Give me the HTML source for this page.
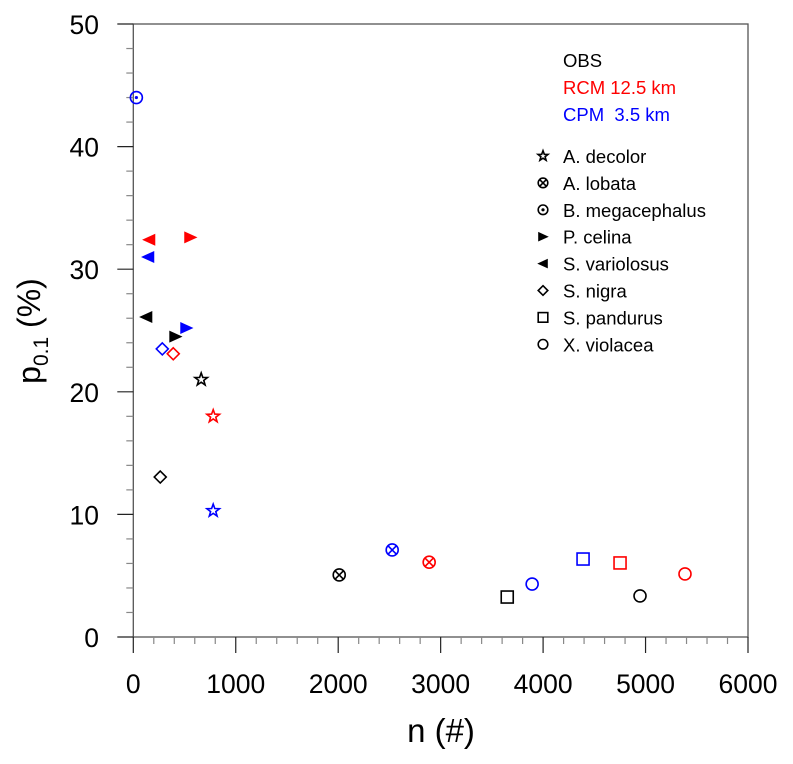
<!DOCTYPE html>
<html><head><meta charset="utf-8"><style>
body{margin:0;background:#fff}
svg{display:block;font-family:"Liberation Sans",sans-serif}
</style></head><body>
<svg id="chart" width="793" height="764">
<g id="axes"></g>
<g id="marks"></g>
<g id="legend">
<text x="563" y="67" font-size="18.5" fill="#000">OBS</text>
<text x="563" y="94" font-size="18.5" fill="#f00">RCM 12.5 km</text>
<text x="563" y="121" font-size="18.5" fill="#00f" xml:space="preserve" style="white-space:pre">CPM  3.5 km</text>
</g>
<text x="441" y="742" font-size="33" text-anchor="middle">n (#)</text>
<text transform="translate(40,331) rotate(-90)" font-size="32" text-anchor="middle">p<tspan font-size="21" dy="8">0.1</tspan><tspan dy="-8"> (%)</tspan></text>
</svg>
<script>
const species = ["A. decolor","A. lobata","B. megacephalus","P. celina","S. variolosus","S. nigra","S. pandurus","X. violacea"];
const shapes = ["star","otimes","odot","right","left","diamond","square","circle"];
const obsN = [663, 2010, null, 410, 127, 263, 3650, 4946];
const obsP = [21.0, 5.06, null, 24.5, 26.1, 13.05, 3.26, 3.35];
const rcmN = [780, 2888, null, 556, 156, 390, 4751, 5385];
const rcmP = [18.0, 6.1, null, 32.6, 32.4, 23.1, 6.04, 5.14];
const cpmN = [780, 2527, 30, 517, 146, 283, 4390, 3893];
const cpmP = [10.3, 7.1, 44.0, 25.2, 31.0, 23.5, 6.36, 4.32];
const xTicks = [0,1000,2000,3000,4000,5000,6000];
const yTicks = [0,10,20,30,40,50];

const X0=133.3,X1=748,Y0=637,Y1=24;
const sx=v=>X0+(v/6000)*(X1-X0);
const sy=v=>Y0-(v/50)*(Y0-Y1);
const NS="http://www.w3.org/2000/svg";
function mk(t,a,p){const e=document.createElementNS(NS,t);for(const k in a)e.setAttribute(k,a[k]);p.appendChild(e);return e;}
const ax=document.getElementById('axes');
const frame=mk('rect',{x:X0,y:Y1,width:X1-X0,height:Y0-Y1,fill:'none',stroke:'#555','stroke-width':1.3},ax);


for(let v=0;v<=6000;v+=200){const x=sx(v);const maj=v%1000===0;mk('line',{x1:x,x2:x,y1:Y0,y2:Y0+(maj?16:7),stroke:maj?'#222':'#888','stroke-width':1.2},ax);}
for(let v=0;v<=50;v+=2){const y=sy(v);const maj=v%10===0;mk('line',{x1:X0,x2:X0-(maj?16:7),y1:y,y2:y,stroke:maj?'#222':'#888','stroke-width':1.2},ax);}
xTicks.forEach(v=>{const t=mk('text',{x:sx(v),y:Y0+56,'font-size':26.5,'text-anchor':'middle'},ax);t.textContent=v;

});
yTicks.forEach(v=>{const t=mk('text',{x:99,y:sy(v)+10,'font-size':26.5,'text-anchor':'end'},ax);t.textContent=v;

});

function marker(shape,cx,cy,col,g,s){
  s=s||1;const sw=1.6;const r=6*s;
  if(shape==='star'){let p=[];for(let i=0;i<10;i++){const rr=i%2?r*0.45:r*1.1;const a=-Math.PI/2+i*Math.PI/5;p.push((cx+rr*Math.cos(a)).toFixed(1)+','+(cy+rr*Math.sin(a)).toFixed(1));}mk('polygon',{points:p.join(' '),fill:'none',stroke:col,'stroke-width':sw},g);}
  else if(shape==='otimes'||shape==='odot'||shape==='circle'){mk('circle',{cx,cy,r,fill:'none',stroke:col,'stroke-width':sw},g);
    if(shape==='otimes'){const d=r*0.7;mk('path',{d:`M${cx-d},${cy-d}L${cx+d},${cy+d}M${cx+d},${cy-d}L${cx-d},${cy+d}`,stroke:col,'stroke-width':sw},g);}
    if(shape==='odot')mk('circle',{cx,cy,r:1.6,fill:col},g);}
  else if(shape==='right')mk('polygon',{points:`${cx-r},${cy-r} ${cx+r*1.2},${cy} ${cx-r},${cy+r}`,fill:col},g);
  else if(shape==='left')mk('polygon',{points:`${cx+r},${cy-r} ${cx-r*1.2},${cy} ${cx+r},${cy+r}`,fill:col},g);
  else if(shape==='diamond')mk('polygon',{points:`${cx},${cy-r} ${cx+r},${cy} ${cx},${cy+r} ${cx-r},${cy}`,fill:'none',stroke:col,'stroke-width':sw},g);
  else if(shape==='square')mk('rect',{x:cx-r,y:cy-r,width:2*r,height:2*r,fill:'none',stroke:col,'stroke-width':sw},g);
}
const mg=document.getElementById('marks');
[[obsN,obsP,'#000','obs'],[rcmN,rcmP,'#f00','rcm'],[cpmN,cpmP,'#00f','cpm']].forEach(([N,P,c,nm])=>{
  N.forEach((n,i)=>{if(n===null)return;const g=mk('g',{},mg);
    
    
    marker(shapes[i],sx(n),sy(P[i]),c,g);});
});
const lg=document.getElementById('legend');
species.forEach((s,i)=>{const y=156+i*26.9;const g=mk('g',{},lg);
  
  
  marker(shapes[i],543,y,'#000',g,0.8);
  const t=mk('text',{x:563,y:y+7,'font-size':18.5},g);t.textContent=s;});
</script>
</body></html>
